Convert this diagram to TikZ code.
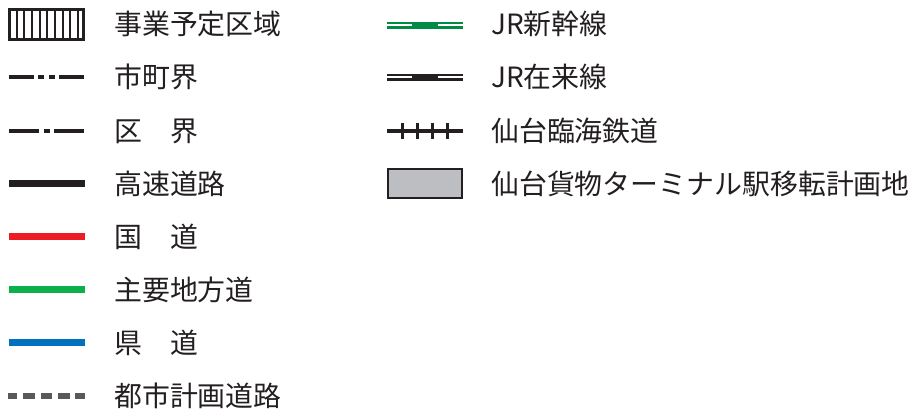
\documentclass[tikz,border=0pt]{standalone}
\usepackage{fontspec}
\setmainfont{Noto Sans CJK JP}
\definecolor{ink}{HTML}{231F20}
\definecolor{roadred}{HTML}{ED1C24}
\definecolor{roadgreen}{HTML}{0BB04B}
\definecolor{roadblue}{HTML}{0070BF}
\definecolor{plangray}{HTML}{58595B}
\definecolor{jrgreen}{HTML}{008C44}
\definecolor{sitegray}{HTML}{BCBEC2}
\tikzset{
  legtext/.style={anchor=west, inner sep=0pt, text=ink, font=\fontsize{27.9}{32}\selectfont},
  road/.style={line width=7pt},
  bound/.style={line width=4.5pt, draw=ink},
  jrline/.style={line width=7pt},
  jrinner/.style={line width=2pt, draw=white},
}
\begin{document}
\begin{tikzpicture}[x=1pt,y=-1pt]
\useasboundingbox (0,0) rectangle (915,412);
% --- left column symbols ---
% 事業予定区域 (hatched box)
\draw[ink, line width=3pt] (9.5,9.5) rectangle (83.5,39.5);
\foreach \xx in {16.7,24.3,32,39.7,47.3,55,62.7,70.3,78}
  \draw[ink, line width=2pt] (\xx,9.5) -- (\xx,39.5);
% 市町界
\draw[bound, dash pattern=on 25pt off 4pt on 6pt off 5pt on 6pt off 4pt on 25pt off 100pt] (9,77) -- (84,77);
% 区界
\draw[bound, dash pattern=on 30pt off 5pt on 6pt off 4pt on 30pt off 100pt] (9,131) -- (84,131);
% 高速道路
\draw[road, ink] (9,183.5) -- (85,183.5);
% 国道
\draw[road, roadred] (9,236.5) -- (85,236.5);
% 主要地方道
\draw[road, roadgreen] (9,289.5) -- (85,289.5);
% 県道
\draw[road, roadblue] (9,342.5) -- (85,342.5);
% 都市計画道路
\draw[line width=6pt, plangray, dash pattern=on 9pt off 6pt on 12pt off 6pt on 11pt off 6pt on 12pt off 5pt on 10pt off 100pt] (8,395.5) -- (85,395.5);
% --- left column texts ---
\node[legtext] (t1) at (114,24) {事業予定区域};
\node[legtext] (t2) at (114,77) {市町界};
\node[legtext] (t3) at (114,131) {区　界};
\node[legtext] (t4) at (114,183.5) {高速道路};
\node[legtext] (t5) at (114,236.5) {国　道};
\node[legtext] (t6) at (114,289.5) {主要地方道};
\node[legtext] (t7) at (114,342.5) {県　道};
\node[legtext] (t8) at (114,395.5) {都市計画道路};
% --- right column symbols ---
% JR新幹線
\draw[jrline, jrgreen] (387,25.5) -- (463,25.5);
\draw[jrinner] (387,25) -- (412,25);
\draw[jrinner] (438,25) -- (463,25);
% JR在来線
\draw[jrline, ink] (387,77.5) -- (463,77.5);
\draw[jrinner] (387,77) -- (412,77);
\draw[jrinner] (438,77) -- (463,77);
% 仙台臨海鉄道
\draw[ink, line width=4.5pt] (387,131) -- (463,131);
\foreach \xx in {402,417,432,447}
  \draw[ink, line width=3pt] (\xx,123) -- (\xx,139);
% 仙台貨物ターミナル駅移転計画地
\draw[ink, line width=2pt, fill=sitegray] (388,169) rectangle (462,198);
% --- right column texts ---
\node[legtext] (r1) at (491,24) {JR新幹線};
\node[legtext] (r2) at (491,77) {JR在来線};
\node[legtext] (r3) at (491,131) {仙台臨海鉄道};
\node[legtext] (r4) at (491,183.5) {仙台貨物ターミナル駅移転計画地};
\end{tikzpicture}
\end{document}
